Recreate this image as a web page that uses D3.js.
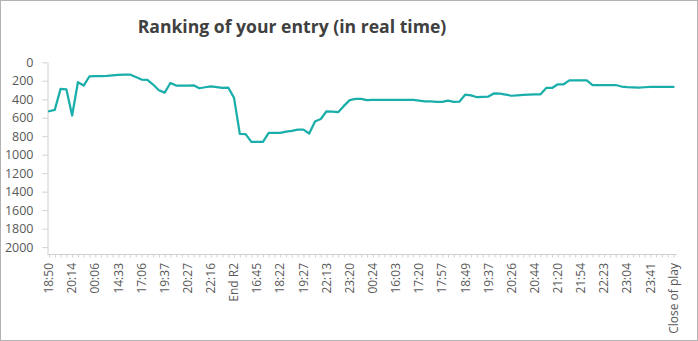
<!DOCTYPE html>
<html>
<head>
<meta charset="utf-8">
<script src="https://cdn.jsdelivr.net/npm/d3@7"></script>
<style>
  html, body { margin: 0; padding: 0; background: #fff; }
  svg { display: block; font-family: "Segoe UI", "Open Sans", "Noto Sans", sans-serif; }
</style>
</head>
<body>
<svg id="chart" width="698" height="341"></svg>
<script>
// Rank after each update (lower is better); one value per timestamp
const ranks = [
  530, 515, 288, 292, 576, 216, 252, 151, 150, 150,
  148, 142, 135, 134, 133, 160, 187, 191, 241, 303,
  328, 224, 252, 252, 252, 249, 281, 270, 260, 268,
  277, 273, 385, 774, 778, 861, 861, 861, 764, 764,
  764, 750, 743, 728, 728, 771, 640, 614, 530, 535,
  540, 472, 409, 395, 395, 409, 407, 407, 407, 407,
  407, 407, 407, 407, 415, 422, 422, 429, 429, 414,
  429, 425, 349, 358, 378, 375, 371, 335, 340, 350,
  362, 357, 352, 350, 348, 346, 278, 278, 238, 238,
  195, 195, 195, 195, 246, 246, 246, 246, 246, 262,
  268, 272, 275, 270, 266, 266, 266, 266, 266
];

// Every fourth timestamp is labelled on the time axis
const timeLabels = [
  "18:50", "20:14", "00:06", "14:33", "17:06", "19:37", "20:27", "22:16",
  "End R2", "16:45", "18:22", "19:27", "22:13", "23:20", "00:24", "16:03",
  "17:20", "17:57", "18:49", "19:37", "20:26", "20:44", "21:20", "21:54",
  "22:23", "23:04", "23:41", "Close of play"
];
const labelEvery = 4;

const rankTicks = [0, 200, 400, 600, 800, 1000, 1200, 1400, 1600, 1800, 2000];

const svg = d3.select("#chart");
const W = 698, H = 341;

// outer frame
svg.append("rect")
  .attr("x", 0.5).attr("y", 0.5)
  .attr("width", W - 1).attr("height", H - 1)
  .attr("fill", "#fff").attr("stroke", "#b3b3b3");

// title
svg.append("text")
  .attr("x", 292).attr("y", 33)
  .attr("text-anchor", "middle")
  .attr("font-size", 17.6).attr("font-weight", "bold")
  .attr("fill", "#404040")
  .text("Ranking of your entry (in real time)");

const idx = d3.range(ranks.length);
const x = d3.scalePoint().domain(idx).range([49, 673.5]);
const y = d3.scaleLinear().domain([0, 2080]).range([62.3, 254.5]);

const axisColor = "#d0d0d0";
const labelColor = "#595959";

// rank axis (reversed: best rank at the top)
const yAxis = svg.append("g")
  .attr("transform", "translate(47.5,0)")
  .call(d3.axisLeft(y).tickValues(rankTicks).tickFormat(d3.format("d"))
    .tickSize(5).tickSizeOuter(0).tickPadding(9));
yAxis.select(".domain").attr("stroke", axisColor);
yAxis.selectAll(".tick line").attr("stroke", axisColor);
yAxis.selectAll(".tick text")
  .attr("font-size", 12.5).attr("fill", labelColor)
  .attr("font-family", "\"Segoe UI\", \"Open Sans\", \"Noto Sans\", sans-serif");

// time axis
const xAxis = svg.append("g")
  .attr("transform", "translate(0,254.5)")
  .call(d3.axisBottom(x).tickSize(3).tickSizeOuter(0).tickFormat(() => ""));
xAxis.select(".domain").remove();
xAxis.selectAll(".tick line").attr("stroke", axisColor);
svg.append("line")
  .attr("x1", 47.5).attr("x2", 677)
  .attr("y1", 254.5).attr("y2", 254.5)
  .attr("stroke", axisColor);

svg.append("g")
  .selectAll("text")
  .data(timeLabels)
  .join("text")
  .attr("transform", (d, i) => `translate(${x(i * labelEvery)},263) rotate(-90)`)
  .attr("text-anchor", "end")
  .attr("dy", "0.35em")
  .attr("font-size", 12)
  .attr("fill", labelColor)
  .text(d => d);

// rank line
svg.append("path")
  .datum(ranks)
  .attr("fill", "none")
  .attr("stroke", "#1aaeaa")
  .attr("stroke-width", 2.25)
  .attr("stroke-linejoin", "round")
  .attr("stroke-linecap", "round")
  .attr("d", d3.line().x((d, i) => x(i)).y(d => y(d)));
</script>
</body>
</html>
